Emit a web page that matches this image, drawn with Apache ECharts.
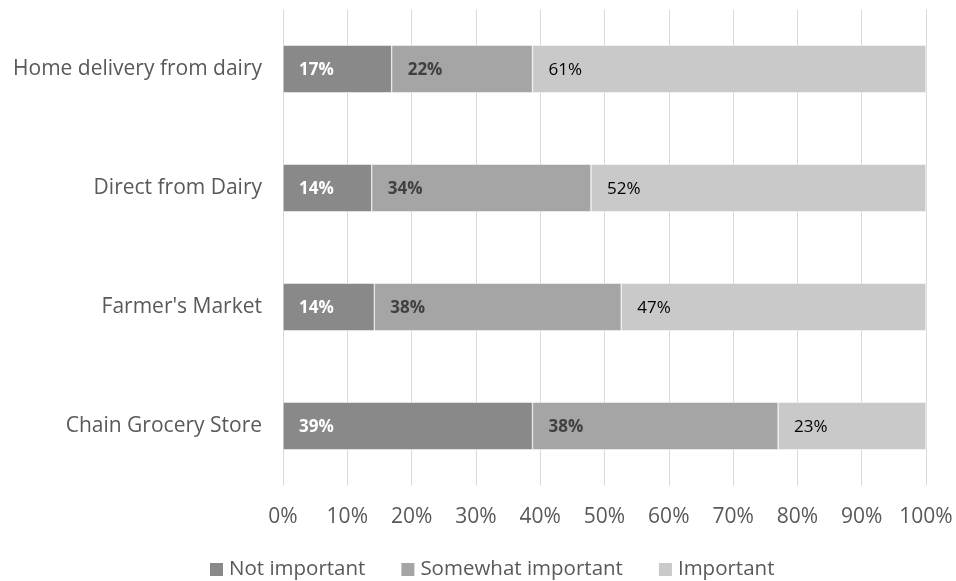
<!DOCTYPE html>
<html>
<head>
<meta charset="utf-8">
<script src="https://cdn.jsdelivr.net/npm/echarts@6/dist/echarts.min.js"></script>
<style>
  html, body { margin: 0; padding: 0; background: #fff; }
  #chart { width: 956px; height: 581px; }
</style>
</head>
<body>
<div id="chart"></div>
<script>
// Purchase channels, bottom to top as drawn on the category axis
const categories = ['Chain Grocery Store', "Farmer's Market", 'Direct from Dairy', 'Home delivery from dairy'];
const seriesNames = ['Not important', 'Somewhat important', 'Important'];
// Share of respondents (%) per channel
const notImportant = [38.8, 14.2, 13.8, 16.9];
const somewhatImportant = [38.2, 38.4, 34.1, 21.9];
const important = [23.0, 47.4, 52.1, 61.2];
const xTicks = [0, 10, 20, 30, 40, 50, 60, 70, 80, 90, 100];

const font = '"Open Sans", "Noto Sans", sans-serif';
const colors = ['#898989', '#a5a5a5', '#c9c9c9'];
const labelColors = ['#ffffff', '#404040', '#000000'];
const labelWeights = ['bold', 'bold', 'normal'];
const values = [notImportant, somewhatImportant, important];

const chart = echarts.init(document.getElementById('chart'));
chart.setOption({
  animation: false,
  color: colors,
  grid: { left: 283, right: 30, top: 9.5, bottom: 95.5, containLabel: false },
  xAxis: {
    type: 'value',
    min: xTicks[0],
    max: xTicks[xTicks.length - 1],
    interval: 10,
    axisLine: { show: false },
    axisTick: { show: false },
    splitLine: { show: true, lineStyle: { color: '#d9d9d9', width: 1 } },
    axisLabel: {
      formatter: v => v + '%',
      color: '#595959',
      fontFamily: font,
      fontSize: 21,
      margin: 21
    }
  },
  yAxis: {
    type: 'category',
    data: categories,
    axisLine: { show: false },
    axisTick: { show: false },
    axisLabel: {
      color: '#595959',
      fontFamily: font,
      fontSize: 21,
      margin: 21
    }
  },
  legend: {
    top: 554,
    left: 203,
    itemWidth: 15,
    itemHeight: 15,
    itemGap: 34,
    icon: 'rect',
    textStyle: { color: '#595959', fontFamily: font, fontSize: 20.5, padding: [0, 0, 0, 0] },
    data: seriesNames
  },
  series: seriesNames.map((name, i) => ({
    name,
    type: 'bar',
    stack: 'total',
    barCategoryGap: '60%',
    data: values[i],
    itemStyle: { color: colors[i], borderColor: '#ffffff', borderWidth: 0.5 },
    label: {
      show: true,
      position: 'insideLeft',
      distance: 16,
      offset: [0, 1],
      formatter: p => Math.round(p.value) + '%',
      color: labelColors[i],
      fontWeight: labelWeights[i],
      fontFamily: font,
      fontSize: 17
    }
  }))
});
</script>
</body>
</html>
